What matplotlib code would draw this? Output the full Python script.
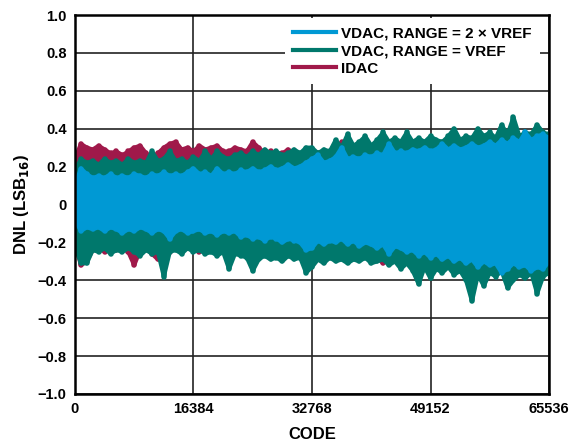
import numpy as np
import matplotlib.pyplot as plt

plt.rcParams['font.family'] = ['Liberation Sans', 'DejaVu Sans']
plt.rcParams['font.weight'] = 'bold'

# upper / lower envelope of each DNL trace at 81 codes
codes = np.linspace(0, 65536, 81)

vdac2_hi = [0.10, 0.19, 0.16, 0.14, 0.15, 0.14, 0.16, 0.14, 0.15, 0.14,
            0.16, 0.15, 0.14, 0.16, 0.15, 0.17, 0.15, 0.16, 0.15, 0.17,
            0.19, 0.16, 0.17, 0.15, 0.19, 0.16, 0.17, 0.16, 0.18, 0.17,
            0.19, 0.17, 0.18, 0.20, 0.18, 0.19, 0.21, 0.19, 0.20, 0.22,
            0.24, 0.26, 0.22, 0.23, 0.25, 0.30, 0.24, 0.25, 0.24, 0.26,
            0.25, 0.27, 0.26, 0.32, 0.27, 0.28, 0.27, 0.29, 0.28, 0.30,
            0.28, 0.29, 0.32, 0.29, 0.31, 0.29, 0.30, 0.32, 0.30, 0.31,
            0.33, 0.31, 0.34, 0.32, 0.35, 0.33, 0.38, 0.34, 0.36, 0.37, 0.35]
vdac2_lo = [-0.08, -0.14, -0.12, -0.13, -0.12, -0.14, -0.12, -0.13, -0.15, -0.13,
            -0.14, -0.12, -0.13, -0.15, -0.13, -0.14, -0.18, -0.14, -0.13, -0.15,
            -0.14, -0.13, -0.15, -0.14, -0.16, -0.14, -0.15, -0.14, -0.17, -0.16,
            -0.18, -0.17, -0.19, -0.17, -0.18, -0.20, -0.18, -0.19, -0.20, -0.24,
            -0.23, -0.19, -0.21, -0.19, -0.20, -0.18, -0.21, -0.19, -0.22, -0.20,
            -0.21, -0.23, -0.21, -0.26, -0.22, -0.23, -0.25, -0.24, -0.27, -0.25,
            -0.28, -0.26, -0.29, -0.27, -0.30, -0.28, -0.31, -0.29, -0.33, -0.30,
            -0.32, -0.31, -0.36, -0.34, -0.31, -0.33, -0.32, -0.35, -0.33, -0.34, -0.30]

vdac1_hi = [0.18, 0.24, 0.22, 0.23, 0.21, 0.24, 0.22, 0.23, 0.21, 0.24,
            0.22, 0.23, 0.22, 0.28, 0.23, 0.24, 0.28, 0.23, 0.24, 0.22,
            0.25, 0.23, 0.28, 0.24, 0.28, 0.25, 0.24, 0.26, 0.27, 0.25,
            0.28, 0.26, 0.29, 0.27, 0.28, 0.26, 0.27, 0.29, 0.27, 0.30,
            0.30, 0.27, 0.29, 0.28, 0.34, 0.30, 0.37, 0.31, 0.33, 0.36,
            0.31, 0.34, 0.38, 0.33, 0.35, 0.33, 0.38, 0.33, 0.35, 0.33,
            0.36, 0.34, 0.33, 0.36, 0.40, 0.34, 0.36, 0.35, 0.40, 0.36,
            0.38, 0.35, 0.42, 0.37, 0.46, 0.36, 0.38, 0.37, 0.42, 0.38, 0.37]
vdac1_lo = [-0.22, -0.31, -0.31, -0.24, -0.25, -0.23, -0.26, -0.24, -0.25, -0.23,
            -0.25, -0.27, -0.24, -0.26, -0.25, -0.38, -0.25, -0.24, -0.26, -0.23,
            -0.25, -0.24, -0.26, -0.25, -0.27, -0.25, -0.34, -0.26, -0.27, -0.28,
            -0.35, -0.29, -0.27, -0.29, -0.28, -0.30, -0.27, -0.29, -0.28, -0.36,
            -0.33, -0.29, -0.31, -0.28, -0.30, -0.29, -0.31, -0.29, -0.30, -0.28,
            -0.31, -0.30, -0.29, -0.32, -0.30, -0.34, -0.31, -0.35, -0.42, -0.33,
            -0.39, -0.34, -0.36, -0.33, -0.37, -0.35, -0.40, -0.51, -0.37, -0.43,
            -0.36, -0.38, -0.35, -0.44, -0.40, -0.37, -0.39, -0.36, -0.47, -0.38, -0.36]

idac_hi = [0.24, 0.32, 0.30, 0.29, 0.31, 0.29, 0.27, 0.28, 0.26, 0.28,
           0.30, 0.31, 0.27, 0.25, 0.27, 0.30, 0.32, 0.33, 0.29, 0.30,
           0.28, 0.31, 0.29, 0.30, 0.31, 0.28, 0.28, 0.30, 0.29, 0.28,
           0.33, 0.30, 0.27, 0.28, 0.26, 0.27, 0.29, 0.27, 0.26, 0.27,
           0.26, 0.27, 0.28, 0.27, 0.28, 0.33, 0.28, 0.27, 0.29, 0.28,
           0.27, 0.29, 0.28, 0.30, 0.28, 0.29, 0.28, 0.30, 0.29, 0.28,
           0.30, 0.29, 0.28, 0.30, 0.29, 0.28, 0.30, 0.29, 0.28, 0.30,
           0.29, 0.28, 0.30, 0.29, 0.28, 0.30, 0.29, 0.28, 0.30, 0.29, 0.28]
idac_lo = [-0.20, -0.32, -0.30, -0.24, -0.23, -0.25, -0.23, -0.24, -0.23, -0.25,
           -0.32, -0.24, -0.23, -0.26, -0.29, -0.24, -0.25, -0.23, -0.24, -0.23,
           -0.22, -0.25, -0.23, -0.24, -0.25, -0.24, -0.25, -0.24, -0.25, -0.24,
           -0.26, -0.25, -0.24, -0.26, -0.25, -0.26, -0.25, -0.26, -0.25, -0.27,
           -0.26, -0.25, -0.26, -0.25, -0.27, -0.26, -0.27, -0.26, -0.27, -0.26,
           -0.27, -0.28, -0.31, -0.27, -0.28, -0.27, -0.28, -0.29, -0.28, -0.29,
           -0.28, -0.29, -0.30, -0.29, -0.28, -0.29, -0.30, -0.29, -0.28, -0.30,
           -0.29, -0.30, -0.29, -0.30, -0.29, -0.30, -0.29, -0.30, -0.29, -0.30, -0.29]

labels = ['VDAC, RANGE = 2 × VREF', 'VDAC, RANGE = VREF', 'IDAC']
colors = ['#0099d4', '#00786c', '#a0194a']

fig = plt.figure(figsize=(5.71, 4.47), dpi=100)
ax = fig.add_axes([0.1313, 0.1186, 0.8302, 0.8478])

series = [(idac_hi, idac_lo, colors[2]), (vdac1_hi, vdac1_lo, colors[1]),
          (vdac2_hi, vdac2_lo, colors[0])]
for hi, lo, c in series:
    ax.fill_between(codes, lo, hi, color=c, lw=0, zorder=2)
    ax.vlines(codes, lo, hi, color=c, lw=4, capstyle='round', zorder=2)
    ax.plot(codes, hi, color=c, lw=3, solid_joinstyle='round', zorder=2)
    ax.plot(codes, lo, color=c, lw=3, solid_joinstyle='round', zorder=2)

handles = [plt.Line2D([], [], color=c, lw=3) for c in colors]

ax.set_xlim(0, 65536)
ax.set_ylim(-1, 1)
ax.set_xticks([0, 16384, 32768, 49152, 65536])
ax.set_yticks(np.arange(-1, 1.01, 0.2))
ax.set_yticklabels(['−1.0', '−0.8', '−0.6', '−0.4', '−0.2', '0', '0.2', '0.4', '0.6', '0.8', '1.0'])
ax.grid(True, color='#222222', lw=1.2, zorder=1)
ax.set_axisbelow(True)
ax.tick_params(length=0, labelsize=10.5, pad=6)
for s in ax.spines.values():
    s.set_linewidth(1.8)

ax.set_xlabel('CODE', fontsize=12, fontweight='bold', labelpad=8)
ax.set_ylabel('DNL (LSB$_{\\mathbf{16}}$)', fontsize=12, fontweight='bold', labelpad=5)

leg = ax.legend(handles, labels, loc='upper right', bbox_to_anchor=(0.985, 0.995),
                fontsize=11, frameon=True, fancybox=False, framealpha=1,
                handlelength=2.8, handletextpad=0.35, labelspacing=0.22,
                borderpad=0.55, borderaxespad=0.1)
leg.get_frame().set_edgecolor('none')
leg.set_zorder(5)

fig.savefig('out.png', dpi=100)
